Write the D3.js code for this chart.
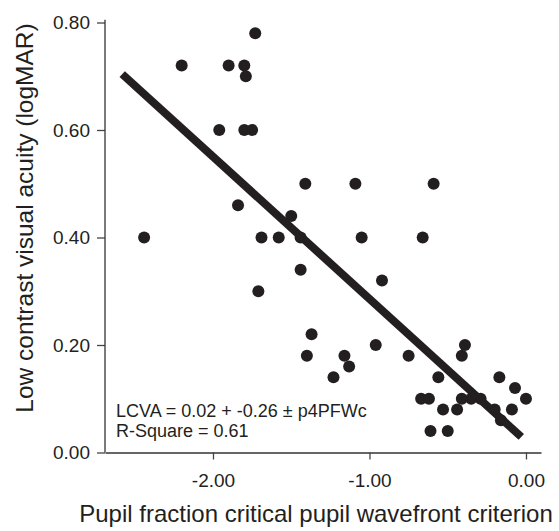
<!DOCTYPE html>
<html>
<head>
<meta charset="utf-8">
<script src="https://cdn.jsdelivr.net/npm/d3@7"></script>
<style>
  html, body { margin: 0; padding: 0; background: #fff; }
  svg { display: block; font-family: "Liberation Sans", Arial, Helvetica, sans-serif; }
</style>
</head>
<body>
<svg id="chart" width="559" height="531"></svg>
<script>
// ---- data ----
const pupilFraction = [
  -2.44, -2.20, -1.90, -1.80, -1.79, -1.73, -1.96, -1.80, -1.75, -1.84,
  -1.69, -1.58, -1.44, -1.50, -1.41, -1.09, -0.59, -1.05, -0.66, -1.44,
  -1.71, -0.92, -1.37, -1.40, -1.16, -1.13, -1.23, -0.96, -0.75, -0.39,
  -0.41, -0.56, -0.17, -0.07, 0.00, -0.67, -0.62, -0.41, -0.35, -0.29,
  -0.53, -0.44, -0.20, -0.09, -0.16, -0.61, -0.50
];
const lcva = [
  0.40, 0.72, 0.72, 0.72, 0.70, 0.78, 0.60, 0.60, 0.60, 0.46,
  0.40, 0.40, 0.40, 0.44, 0.50, 0.50, 0.50, 0.40, 0.40, 0.34,
  0.30, 0.32, 0.22, 0.18, 0.18, 0.16, 0.14, 0.20, 0.18, 0.20,
  0.18, 0.14, 0.14, 0.12, 0.10, 0.10, 0.10, 0.10, 0.10, 0.10,
  0.08, 0.08, 0.08, 0.08, 0.06, 0.04, 0.04
];
const fitX = [-2.58, -0.03];
const fitY = [0.704, 0.029];
const xTicks = [-2, -1, 0];
const xTickLabels = ["-2.00", "-1.00", "0.00"];
const yTicks = [0, 0.2, 0.4, 0.6, 0.8];
const yTickLabels = ["0.00", "0.20", "0.40", "0.60", "0.80"];
const annotation = ["LCVA = 0.02 + -0.26 \u00b1 p4PFWc", "R-Square = 0.61"];
const xTitle = "Pupil fraction critical pupil wavefront criterion";
const yTitle = "Low contrast visual acuity (logMAR)";

// ---- chart ----
const svg = d3.select("#chart");
const x = d3.scaleLinear().domain([-2.69, 0.096]).range([105, 541]);
const y = d3.scaleLinear().domain([0, 0.8]).range([452.5, 22.5]);
const ink = "#231f20";

// x axis
const xAxis = d3.axisBottom(x)
  .tickValues(xTicks)
  .tickFormat((d, i) => xTickLabels[i])
  .tickSize(7)
  .tickPadding(14)
  .tickSizeOuter(0);
const gx = svg.append("g").attr("transform", `translate(0,${y(0)})`).call(xAxis);
gx.select(".domain").attr("stroke", "#666").attr("stroke-width", 2);
gx.selectAll(".tick line").attr("stroke", "#444").attr("stroke-width", 1.3);
gx.selectAll(".tick text").attr("font-size", 19).attr("fill", ink).attr("font-family", null);

// y axis
const yAxis = d3.axisLeft(y)
  .tickValues(yTicks)
  .tickFormat((d, i) => yTickLabels[i])
  .tickSize(8)
  .tickPadding(7)
  .tickSizeOuter(0);
const gy = svg.append("g").attr("transform", `translate(${x.range()[0]},0)`).call(yAxis);
gy.select(".domain").remove();
gy.append("line")
  .attr("x1", 0).attr("x2", 0)
  .attr("y1", y(0)).attr("y2", y(0.805))
  .attr("stroke", "#333").attr("stroke-width", 1.3);
gy.selectAll(".tick line").attr("stroke", "#444").attr("stroke-width", 1.3);
gy.selectAll(".tick text").attr("font-size", 19).attr("fill", ink).attr("font-family", null);

// points
svg.append("g").selectAll("circle")
  .data(d3.zip(pupilFraction, lcva))
  .join("circle")
  .attr("cx", d => x(d[0]))
  .attr("cy", d => y(d[1]))
  .attr("r", 6)
  .attr("fill", ink);

// regression line
svg.append("path")
  .datum(d3.zip(fitX, fitY))
  .attr("d", d3.line().x(d => x(d[0])).y(d => y(d[1])))
  .attr("stroke", ink)
  .attr("stroke-width", 8)
  .attr("fill", "none");

// annotation
svg.append("g").selectAll("text")
  .data(annotation)
  .join("text")
  .attr("x", 116)
  .attr("y", (d, i) => 416.5 + i * 20)
  .attr("font-size", 18)
  .attr("fill", ink)
  .text(d => d);

// titles
svg.append("text")
  .attr("x", 316).attr("y", 522)
  .attr("text-anchor", "middle")
  .attr("font-size", 24)
  .attr("fill", ink)
  .text(xTitle);

svg.append("text")
  .attr("transform", "translate(33,218) rotate(-90)")
  .attr("text-anchor", "middle")
  .attr("font-size", 24.5)
  .attr("fill", ink)
  .text(yTitle);
</script>
</body>
</html>
